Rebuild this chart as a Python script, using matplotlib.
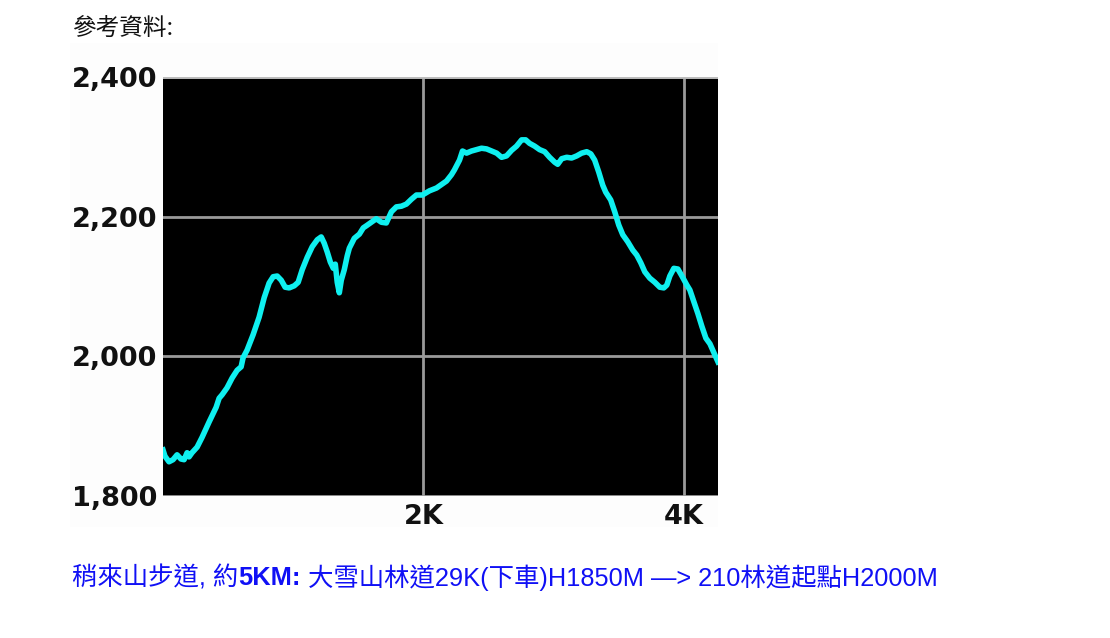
import matplotlib
matplotlib.use("Agg")
import matplotlib.pyplot as plt
from matplotlib.patches import Rectangle

distance_km = [0.0, 0.015, 0.046, 0.077, 0.108, 0.138, 0.162, 0.185, 0.2, 0.223, 0.262, 0.3, 0.354, 0.408,
               0.431, 0.454, 0.492, 0.531, 0.569, 0.6, 0.615, 0.646, 0.692, 0.738, 0.777, 0.815, 0.846, 0.877,
               0.908, 0.938, 0.969, 1.008, 1.038, 1.069, 1.108, 1.146, 1.185, 1.215, 1.238, 1.262, 1.285, 1.308,
               1.323, 1.338, 1.354, 1.369, 1.392, 1.415, 1.431, 1.469, 1.508, 1.538, 1.562, 1.6, 1.638, 1.677,
               1.715, 1.754, 1.792, 1.831, 1.869, 1.908, 1.946, 1.992, 2.046, 2.1, 2.146, 2.177, 2.215, 2.238,
               2.277, 2.3, 2.331, 2.369, 2.408, 2.446, 2.485, 2.523, 2.562, 2.6, 2.638, 2.677, 2.715, 2.754,
               2.785, 2.815, 2.854, 2.892, 2.931, 2.969, 3.008, 3.031, 3.062, 3.1, 3.138, 3.177, 3.215, 3.254,
               3.285, 3.315, 3.346, 3.377, 3.4, 3.438, 3.469, 3.5, 3.531, 3.569, 3.608, 3.638, 3.669, 3.7,
               3.738, 3.777, 3.815, 3.846, 3.869, 3.892, 3.923, 3.954, 3.985, 4.023, 4.046, 4.077, 4.108,
               4.138, 4.169, 4.2, 4.231, 4.262]
elevation_m = [1866, 1857, 1849, 1852, 1859, 1853, 1852, 1862, 1856, 1862, 1870, 1884, 1906, 1927,
               1940, 1945, 1955, 1969, 1980, 1985, 1998, 2009, 2031, 2056, 2084, 2105, 2114, 2115,
               2109, 2099, 2098, 2101, 2106, 2124, 2142, 2157, 2167, 2171, 2162, 2149, 2135, 2126,
               2132, 2106, 2091, 2109, 2124, 2144, 2155, 2169, 2175, 2184, 2187, 2192, 2197, 2192,
               2191, 2207, 2214, 2215, 2218, 2225, 2231, 2231, 2237, 2241, 2247, 2251, 2260, 2267,
               2281, 2294, 2291, 2294, 2296, 2298, 2297, 2294, 2291, 2285, 2287, 2295, 2301, 2310,
               2310, 2305, 2301, 2296, 2293, 2285, 2278, 2275, 2283, 2285, 2284, 2287, 2291, 2293,
               2290, 2281, 2264, 2245, 2235, 2224, 2207, 2188, 2174, 2164, 2152, 2145, 2134, 2121,
               2112, 2106, 2099, 2098, 2102, 2115, 2126, 2125, 2115, 2102, 2095, 2078, 2061,
               2043, 2026, 2018, 2005, 1992]

x_ticks = [2, 4]
x_tick_labels = ["2K", "4K"]
y_ticks = [1800, 2000, 2200, 2400]
y_tick_labels = ["1,800", "2,000", "2,200", "2,400"]

title_text = "參考資料:"
caption_parts = [("稍來山步道, 約", "normal"), ("5KM:", "bold"),
                 (" 大雪山林道29K(下車)H1850M —> 210林道起點H2000M", "normal")]

W, H = 1110, 638
fig = plt.figure(figsize=(W / 100, H / 100), dpi=100)
fig.patch.set_facecolor("white")

# faint image background
bg = Rectangle((70 / W, 1 - 527 / H), (718 - 70) / W, (527 - 43) / H,
               transform=fig.transFigure, facecolor="#fdfdfd", edgecolor="none", zorder=-5)
fig.add_artist(bg)

ax = fig.add_axes([163 / W, 1 - 496 / H, (718 - 163) / W, (496 - 77) / H])
ax.set_zorder(5)
ax.set_facecolor("black")
ax.plot(distance_km, elevation_m, color="#0ff0f0", lw=4.0, solid_joinstyle="round", zorder=3)
ax.set_xlim(0, 4.262)
ax.set_ylim(1800, 2400)
ax.set_xticks(x_ticks)
ax.set_xticklabels(x_tick_labels)
ax.set_yticks(y_ticks)
ax.set_yticklabels(y_tick_labels)
ax.grid(True, color="#9a9a9a", lw=2.0, zorder=1)
ax.set_axisbelow(True)
ax.tick_params(axis="y", length=0, pad=4, labelsize=19.5)
ax.tick_params(axis="x", length=0, pad=6, labelsize=19.5)
for lbl in ax.get_xticklabels() + ax.get_yticklabels():
    lbl.set_fontweight("heavy")
    lbl.set_family("DejaVu Sans")
    lbl.set_color("#111111")
for s in ax.spines.values():
    s.set_visible(False)
ax.axhline(2400, color="#bdbdbd", lw=2.0, zorder=2)

fig.text(72 / W, 1 - 28 / H, title_text, family=["Noto Sans CJK TC", "DejaVu Sans"],
         fontsize=17, color="#111111", va="center", ha="left")

fig.canvas.draw()
renderer = fig.canvas.get_renderer()
x_px = 72
for txt, wt in caption_parts:
    t = fig.text(x_px / W, 1 - 578 / H, txt, family=["Liberation Sans", "Noto Sans CJK TC"],
                 fontsize=18.3, fontweight=wt, color="#1010f5", va="center", ha="left")
    bb = t.get_window_extent(renderer=renderer)
    x_px = bb.x1

fig.savefig("out.png", dpi=100)
